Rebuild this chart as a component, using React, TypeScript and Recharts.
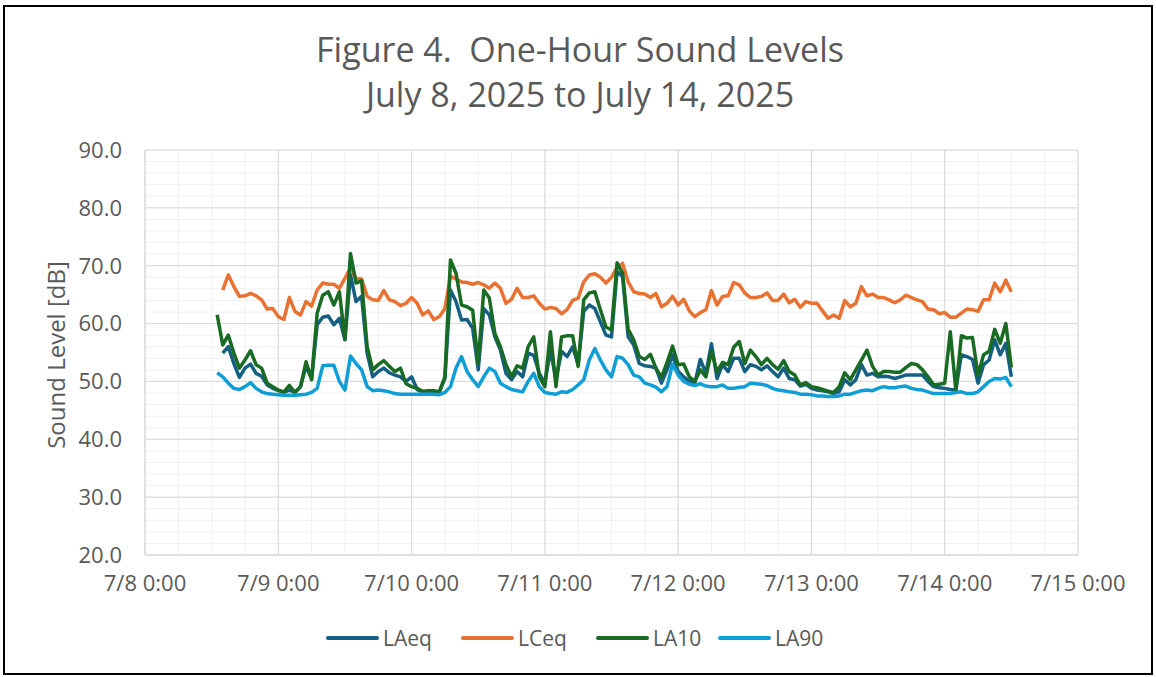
import React from 'react';
import { LineChart, Line, XAxis, YAxis, CartesianGrid } from 'recharts';

// Hourly values, first point = 7/8 13:00, last point = 7/14 12:00
const startHour = 13;

const LAeq: (number | null)[] = [
  null, 54.9, 56.0, 53.1, 50.7, 52.3, 53.0, 51.4, 50.9, 49.4, 48.8, 48.4, 48.1, 48.5, 48.1, 49.1, 52.6, 50.5, 59.8, 61.1, 61.3, 59.8, 60.9, 57.2, 68.4, 63.8, 64.7, 54.9, 50.8,
  51.7, 52.3, 51.5, 51.1, 50.8, 50.0, 50.8, 48.6, 48.2, 48.2, 48.2, 48.2, 50.5, 65.8, 63.8, 60.6, 60.7, 59.2, 52.0, 62.6, 61.5, 57.7, 55.4, 51.4, 50.3, 51.7, 50.8, 54.9, 54.5,
  51.4, 49.7, 55.4, 50.3, 55.2, 54.3, 56.0, 52.9, 62.1, 63.2, 62.6, 60.3, 58.0, 57.7, 69.0, 68.1, 57.7, 56.3, 53.1, 52.7, 52.6, 52.3, 49.7, 52.0, 54.6, 51.7, 50.8, 50.0, 49.7,
  53.8, 51.4, 56.5, 50.5, 52.9, 51.7, 54.0, 54.0, 51.7, 52.9, 52.6, 52.0, 52.7, 51.7, 50.8, 52.3, 50.5, 50.3, 49.2, 49.5, 48.8, 48.5, 48.4, 48.2, 47.9, 48.2, 50.3, 49.4, 50.3,
  52.9, 51.1, 51.4, 50.8, 50.9, 50.8, 50.5, 50.8, 51.1, 51.1, 51.1, 51.1, 50.0, 49.1, 48.9, 48.8, 48.6, 48.5, 54.6, 54.3, 53.8, 49.7, 52.9, 53.7, 57.2, 54.6, 56.6, 50.8,
];

const LCeq: (number | null)[] = [
  null, 65.8, 68.4, 66.4, 64.7, 64.8, 65.2, 64.8, 64.1, 62.5, 62.6, 61.2, 60.7, 64.5, 62.1, 61.5, 63.8, 63.0, 65.8, 67.0, 66.8, 66.8, 66.1, 67.8, 69.6, 67.8, 67.7, 64.7, 64.1,
  64.0, 65.7, 64.1, 63.8, 63.1, 63.5, 64.5, 63.5, 61.5, 62.2, 60.7, 61.2, 62.6, 68.2, 67.7, 67.2, 67.1, 66.8, 67.1, 66.7, 66.1, 67.0, 66.1, 63.5, 64.2, 66.1, 64.5, 64.5, 64.8,
  63.5, 62.5, 62.8, 62.6, 61.7, 62.4, 64.0, 64.4, 67.2, 68.4, 68.6, 68.0, 67.0, 68.0, 69.7, 70.4, 67.2, 65.5, 65.2, 65.1, 64.5, 65.2, 62.9, 63.5, 64.7, 63.2, 64.2, 62.2, 61.2,
  61.9, 62.4, 65.7, 63.2, 64.7, 64.8, 67.1, 66.7, 65.3, 64.5, 64.5, 64.7, 65.3, 64.0, 64.0, 65.1, 63.6, 64.2, 62.8, 63.8, 63.5, 63.5, 62.2, 60.9, 61.5, 60.9, 64.0, 62.9, 63.5,
  66.4, 64.8, 65.1, 64.5, 64.5, 64.1, 63.6, 64.1, 64.9, 64.5, 64.1, 63.8, 62.5, 62.4, 61.7, 61.9, 61.1, 61.1, 61.8, 62.5, 62.4, 62.1, 64.1, 64.1, 67.0, 65.5, 67.5, 65.5,
];

const LA10: number[] = [
  61.5, 56.3, 58.0, 54.9, 52.3, 53.7, 55.3, 52.9, 52.3, 49.7, 49.1, 48.5, 48.2, 49.3, 48.1, 49.1, 53.4, 50.3, 61.8, 64.9, 65.5, 63.2, 65.5, 57.3, 72.1, 67.0, 67.4, 56.0, 52.0,
  52.9, 53.6, 52.6, 51.7, 52.3, 49.6, 49.1, 48.8, 48.3, 48.4, 48.4, 48.2, 50.8, 71.0, 68.7, 63.2, 62.9, 62.3, 53.1, 65.8, 64.4, 58.3, 56.0, 52.9, 50.8, 52.7, 52.3, 56.0, 57.7,
  50.8, 49.1, 58.6, 49.1, 57.7, 57.9, 57.9, 52.6, 64.1, 65.3, 65.5, 62.4, 59.4, 58.9, 70.5, 68.7, 59.0, 57.2, 54.3, 53.8, 54.7, 52.3, 50.7, 53.3, 56.1, 52.9, 53.0, 50.8, 50.0,
  52.0, 50.8, 55.2, 51.7, 53.3, 52.9, 55.9, 56.9, 53.1, 55.4, 54.3, 52.9, 54.0, 52.9, 52.1, 53.6, 51.7, 51.1, 49.4, 49.8, 49.1, 48.9, 48.6, 48.3, 48.1, 49.1, 51.5, 50.3, 52.0,
  53.7, 55.4, 52.6, 51.1, 51.7, 51.7, 51.6, 51.6, 52.4, 53.1, 52.9, 52.0, 50.8, 49.4, 49.5, 49.7, 58.6, 48.5, 57.9, 57.5, 57.6, 51.1, 54.6, 55.2, 59.0, 56.6, 60.0, 52.4,
];

const LA90: number[] = [
  51.5, 50.8, 49.7, 48.8, 48.6, 49.1, 49.8, 48.8, 48.2, 47.9, 47.8, 47.7, 47.6, 47.6, 47.6, 47.7, 47.8, 48.1, 48.8, 52.7, 52.8, 52.8, 50.0, 48.5, 54.4, 53.1, 52.0, 49.1, 48.4,
  48.5, 48.4, 48.2, 47.9, 47.8, 47.8, 47.8, 47.8, 47.8, 47.8, 47.8, 47.7, 48.1, 49.1, 52.3, 54.3, 51.7, 50.3, 49.1, 50.8, 52.3, 51.7, 49.7, 49.1, 48.6, 48.4, 48.2, 50.0, 51.4,
  49.1, 48.1, 47.9, 47.8, 48.2, 48.1, 48.6, 49.4, 50.3, 53.7, 55.7, 53.7, 52.0, 50.8, 54.3, 54.0, 52.9, 51.1, 50.8, 49.7, 49.4, 49.0, 48.2, 49.1, 53.0, 51.1, 50.0, 49.5, 49.3,
  49.6, 49.2, 49.1, 49.1, 49.4, 48.8, 48.8, 49.0, 49.1, 49.7, 49.6, 49.5, 49.3, 48.8, 48.5, 48.4, 48.2, 48.1, 47.8, 47.8, 47.7, 47.5, 47.5, 47.4, 47.4, 47.5, 47.8, 47.8, 48.1,
  48.4, 48.5, 48.4, 48.8, 49.1, 48.9, 48.9, 49.1, 49.2, 48.8, 48.6, 48.5, 48.2, 47.9, 47.9, 47.9, 47.9, 48.1, 48.2, 47.9, 47.9, 48.2, 49.1, 50.0, 50.5, 50.4, 50.7, 49.1,
];

const xTickValues = [0, 24, 48, 72, 96, 120, 144, 168];
const xTickLabels = ['7/8 0:00', '7/9 0:00', '7/10 0:00', '7/11 0:00', '7/12 0:00', '7/13 0:00', '7/14 0:00', '7/15 0:00'];
const yTickValues = [20, 30, 40, 50, 60, 70, 80, 90];
const xMinorValues = [0, 6, 12, 18, 24, 30, 36, 42, 48, 54, 60, 66, 72, 78, 84, 90, 96, 102, 108, 114, 120, 126, 132, 138, 144, 150, 156, 162, 168];
const yMinorValues = [20, 22, 24, 26, 28, 30, 32, 34, 36, 38, 40, 42, 44, 46, 48, 50, 52, 54, 56, 58, 60, 62, 64, 66, 68, 70, 72, 74, 76, 78, 80, 82, 84, 86, 88, 90];

const seriesNames = ['LAeq', 'LCeq', 'LA10', 'LA90'];
const seriesColors = ['#156082', '#E97132', '#196B24', '#0F9ED5'];
const legendLefts = [326, 461, 596, 718];

const data = LA10.map((_, i) => ({
  t: startHour + i,
  LAeq: LAeq[i],
  LCeq: LCeq[i],
  LA10: LA10[i],
  LA90: LA90[i],
}));

const FONT = '"Open Sans", sans-serif';
const TEXT = '#595959';

export default function App() {
  return (
    <div style={{ position: 'absolute', left: 0, top: 0, width: 1156, height: 677, background: '#fff', fontFamily: FONT }}>
      <div style={{ position: 'absolute', left: 3, top: 5, width: 1150, height: 670, border: '2px solid #000', boxSizing: 'border-box' }} />
      <div style={{ position: 'absolute', left: 0, width: 1160, top: 27, textAlign: 'center', fontSize: 34, lineHeight: '45px', color: TEXT, whiteSpace: 'pre' }}>
        {'Figure 4.  One-Hour Sound Levels'}
        <br />
        {'July 8, 2025 to July 14, 2025'}
      </div>
      <div style={{ position: 'absolute', left: 55, top: 355, transform: 'translate(-50%, -50%) rotate(-90deg)', whiteSpace: 'nowrap', fontSize: 24, color: TEXT }}>
        Sound Level [dB]
      </div>
      <div style={{ position: 'absolute', left: 0, top: 0 }}>
        <LineChart width={1156} height={677} data={data} margin={{ top: 150, right: 78, left: 0, bottom: 0 }}>
          <CartesianGrid stroke="#f0f0f0" strokeWidth={1} verticalValues={xMinorValues} horizontalValues={yMinorValues} />
          <CartesianGrid stroke="#d9d9d9" strokeWidth={1} verticalValues={xTickValues} horizontalValues={yTickValues} />
          <XAxis
            type="number"
            dataKey="t"
            domain={[0, 168]}
            ticks={xTickValues}
            tickFormatter={(v: number) => xTickLabels[xTickValues.indexOf(v)] ?? ''}
            height={122}
            tickLine={false}
            tickSize={0}
            tickMargin={20}
            axisLine={{ stroke: '#d9d9d9' }}
            tick={{ fill: TEXT, fontSize: 22, fontFamily: FONT }}
            interval={0}
            allowDataOverflow
          />
          <YAxis
            type="number"
            domain={[20, 90]}
            ticks={yTickValues}
            tickFormatter={(v: number) => v.toFixed(1)}
            width={145}
            tickLine={false}
            tickSize={0}
            tickMargin={23}
            axisLine={{ stroke: '#d9d9d9' }}
            tick={{ fill: TEXT, fontSize: 22, fontFamily: FONT }}
            interval={0}
          />
          {seriesNames.map((name, i) => (
            <Line
              key={name}
              type="linear"
              dataKey={name}
              stroke={seriesColors[i]}
              strokeWidth={3.5}
              strokeLinejoin="round"
              dot={false}
              activeDot={false}
              isAnimationActive={false}
              connectNulls={false}
            />
          ))}
        </LineChart>
      </div>
      {seriesNames.map((name, i) => (
        <div key={name} style={{ position: 'absolute', left: legendLefts[i], top: 624, display: 'flex', alignItems: 'center', fontSize: 21, color: TEXT, lineHeight: '28px', whiteSpace: 'nowrap' }}>
          <div style={{ width: 53, height: 4, background: seriesColors[i], borderRadius: 2, marginRight: 4 }} />
          <span>{name}</span>
        </div>
      ))}
    </div>
  );
}
